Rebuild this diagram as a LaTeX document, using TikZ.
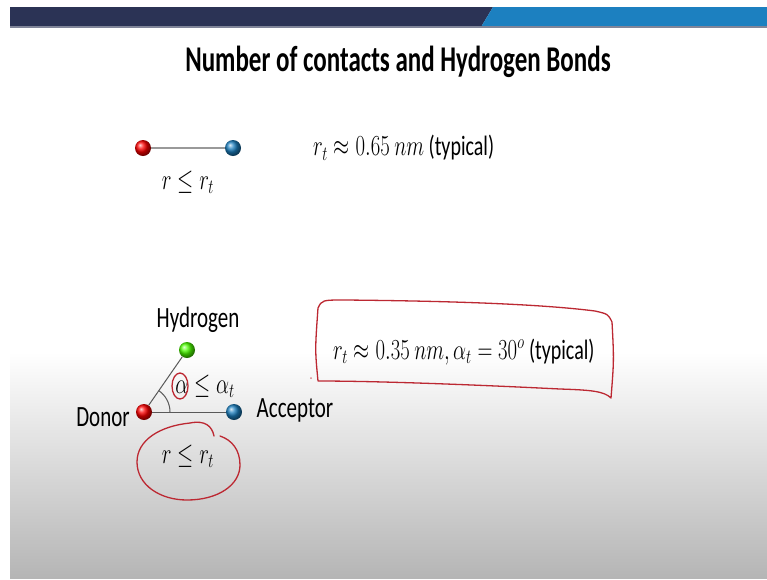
\documentclass[tikz,border=0pt]{standalone}
\usepackage{fontspec}
\setmainfont{Carlito}
\definecolor{navy}{HTML}{2B3355}
\definecolor{bandblue}{HTML}{1C80C0}
\definecolor{penred}{HTML}{BC2832}
\newcommand\tall[1]{\scalebox{1}[1.4]{#1}}
\begin{document}
\begin{tikzpicture}[x=1pt,y=-1pt,
  lbl/.style={font=\fontsize{21}{24}\selectfont, inner sep=0pt},
  frm/.style={font=\fontsize{20}{24}\selectfont, inner sep=0pt},
  atom/.style={circle, minimum size=16pt, inner sep=0pt},
  bond/.style={draw=black!65, line width=1pt},
  pen/.style={draw=penred, line width=1.3pt, line cap=round, line join=round}]
\useasboundingbox (0,0) rectangle (767,579);
\fill[white] (0,0) rectangle (767,579);
\shade[top color=white, bottom color=black!29] (10,352) rectangle (767,578);
% header band
\fill[navy] (10,7) -- (493,7) -- (481,27) -- (10,27) -- cycle;
\fill[bandblue] (493,7) -- (767,7) -- (767,27) -- (481,27) -- cycle;
\fill[navy!60!white] (10,26) rectangle (767,27.5);
% title
\node[font=\fontsize{25}{28}\selectfont\bfseries, inner sep=0pt] (title) at (398,62) {\scalebox{1}[1.45]{Number of contacts and Hydrogen Bonds}};
% top contact
\node[atom, shading=ball, ball color=red] (r1) at (143,148) {};
\node[atom, shading=ball, ball color=bandblue] (b1) at (233,148) {};
\draw[draw=black!40, line width=2pt] (r1) -- (b1);
\node[frm] (l1) at (188,182) {\tall{$r \leq r_t$}};
\node[frm, anchor=west] (t1) at (313,148) {\tall{$r_t \approx 0.65\ nm$ (typical)}};
% hydrogen bond
\node[atom, shading=ball, ball color=red] (don) at (144,412) {};
\node[atom, shading=ball, ball color=bandblue] (acc) at (234,412) {};
\node[atom, shading=ball, ball color=green!70!yellow] (hyd) at (187,350) {};
\draw[bond] (don) -- (acc);
\draw[bond] (don) -- (hyd);
\draw[bond] (don.center) ++(26,0) arc[start angle=0, end angle=-55, radius=26];
\node[lbl] (hl) at (198,320) {\tall{Hydrogen}};
\node[lbl] (dl) at (103,417) {\tall{Donor}};
\node[lbl] (al) at (295,410) {\tall{Acceptor}};
\node[frm] (ang) at (205,386) {\tall{$\alpha \leq \alpha_t$}};
\node[frm] (l2) at (188,456) {\tall{$r \leq r_t$}};
\node[frm, anchor=west] (t2) at (333,352) {\tall{$r_t \approx 0.35\ nm, \alpha_t = 30^o$ (typical)}};
% annotations
\draw[pen] (180,386) ellipse [x radius=8, y radius=13];
\draw[pen] (214,436) .. controls (212,426) and (205,420) .. (190,423)
  .. controls (160,426) and (137,440) .. (137,462)
  .. controls (137,485) and (160,500) .. (187,500)
  .. controls (218,500) and (240,485) .. (240,465)
  .. controls (240,450) and (232,440) .. (220,436);
\draw[pen] (318,381) .. controls (315,350) .. (318,308)
  .. controls (322,300) .. (345,300)
  .. controls (450,301) and (540,304) .. (595,311)
  .. controls (608,314) .. (612,322)
  .. controls (614,360) .. (611,398)
  .. controls (604,391) and (590,390) .. (560,389)
  .. controls (480,385) and (380,381) .. (318,381);
\fill[penred!60] (311,378) circle (1pt);
\end{tikzpicture}
\end{document}
